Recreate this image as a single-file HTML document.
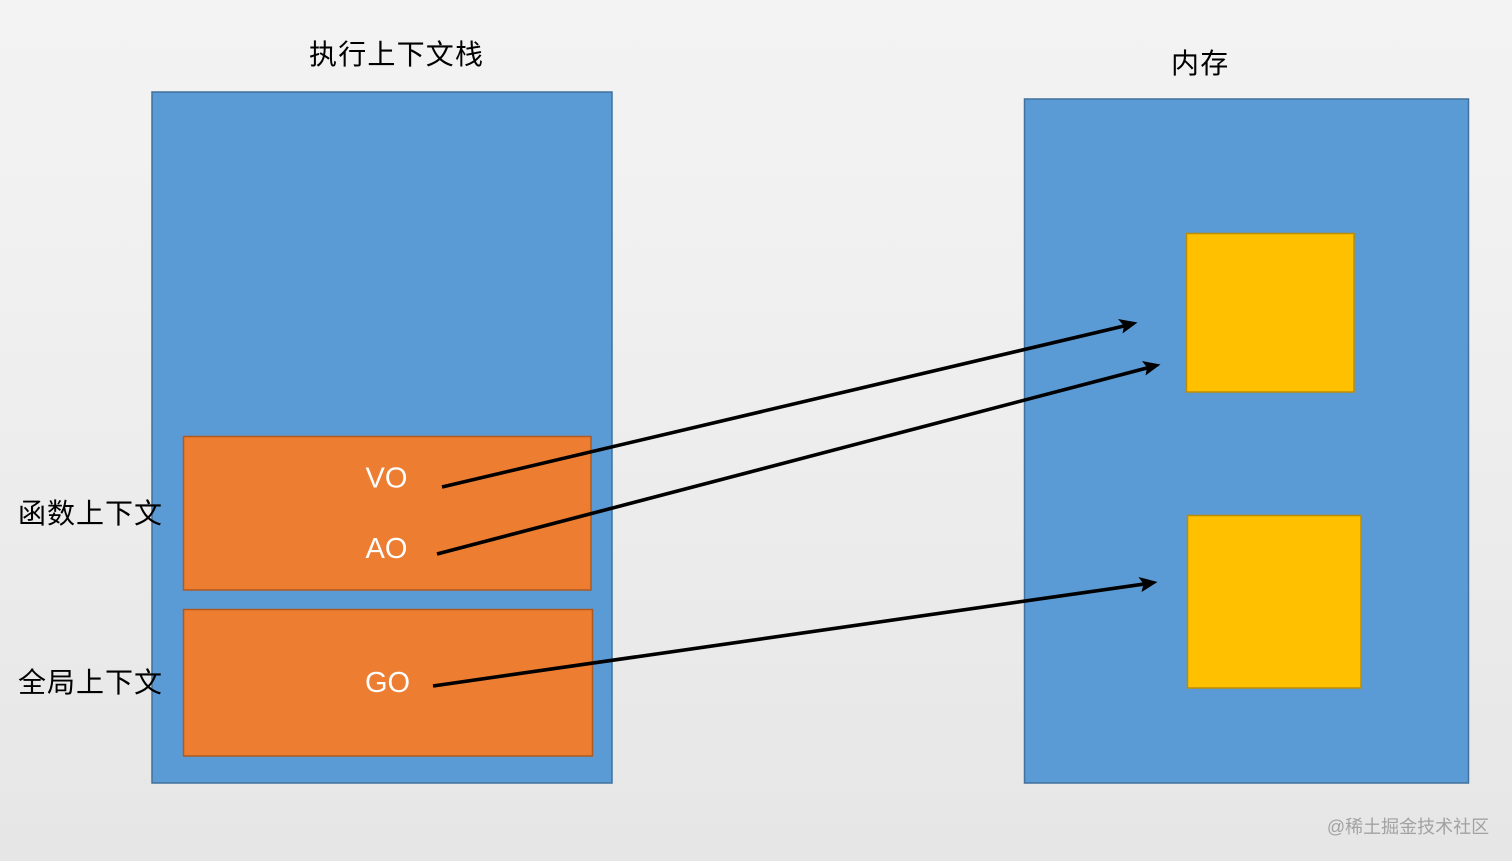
<!DOCTYPE html>
<html>
<head>
<meta charset="utf-8">
<style>
html,body{margin:0;padding:0;width:1512px;height:861px;overflow:hidden}
body{background:linear-gradient(180deg,#f3f3f3 0%,#f1f1f1 25%,#e6e6e6 100%)}
svg{position:absolute;left:0;top:0}
text{font-family:"Liberation Sans","Noto Sans CJK SC",sans-serif}
</style>
</head>
<body>
<svg width="1512" height="861" viewBox="0 0 1512 861">
<rect x="152" y="92" width="460" height="691" fill="#5b9bd5" stroke="#41719c" stroke-width="1.5"/>
<rect x="1024.500" y="99" width="444" height="684" fill="#5b9bd5" stroke="#41719c" stroke-width="1.500"/>
<rect x="183.500" y="436.500" width="407.500" height="153.500" fill="#ed7d31" stroke="#ae5a21" stroke-width="1.500"/>
<rect x="183.500" y="609.500" width="409" height="146.500" fill="#ed7d31" stroke="#ae5a21" stroke-width="1.500"/>
<rect x="1186.500" y="233.500" width="167.500" height="158.500" fill="#ffc000" stroke="#bc8c00" stroke-width="1.500"/>
<rect x="1187.500" y="515.500" width="173.500" height="172.500" fill="#ffc000" stroke="#bc8c00" stroke-width="1.500"/>

<text x="309" y="64" font-size="28" letter-spacing="1.2" fill="#000">执行上下文栈</text>
<text x="1171" y="73" font-size="28" letter-spacing="1.2" fill="#000">内存</text>
<text x="18" y="523" font-size="28" letter-spacing="1" fill="#000">函数上下文</text>
<text x="18" y="692" font-size="28" letter-spacing="1" fill="#000">全局上下文</text>

<text x="386.500" y="487.500" font-size="29" fill="#fff" text-anchor="middle">VO</text>
<text x="386.500" y="558" font-size="29" fill="#fff" text-anchor="middle">AO</text>
<text x="387.500" y="692" font-size="29" fill="#fff" text-anchor="middle">GO</text>

<g stroke="#000" stroke-width="3.600" fill="none">
<line x1="442" y1="487" x2="1124" y2="326"/>
<line x1="437" y1="554" x2="1147" y2="368"/>
<line x1="433" y1="686" x2="1144" y2="584"/>
</g>
<polygon points="1137.500,322.500 1118,319 1124,326 1122.500,333.500" fill="#000"/>
<polygon points="1160.500,364.500 1142,361 1147,367.500 1145.500,375.500" fill="#000"/>
<polygon points="1157.500,582 1138.500,577 1143.500,584 1141.500,592" fill="#000"/>

<text x="1408" y="833" font-size="18" fill="#a2a2a2" text-anchor="middle">@稀土掘金技术社区</text>
</svg>
</body>
</html>
